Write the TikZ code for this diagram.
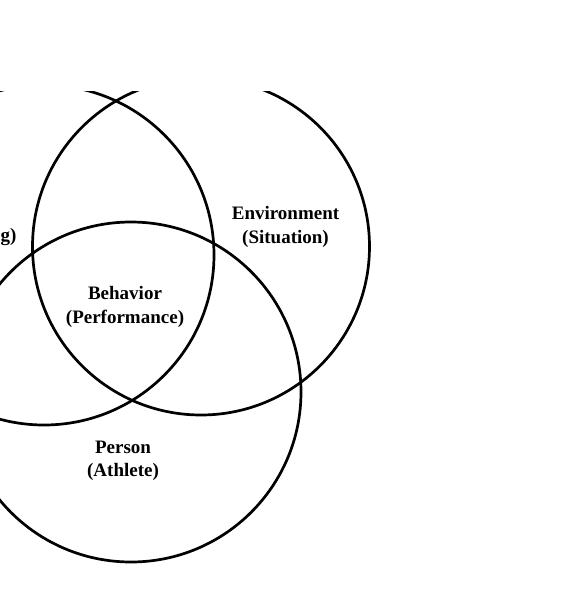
\documentclass[tikz,border=0pt]{standalone}
\usepackage{fontspec}
\setmainfont{Liberation Serif}
\begin{document}
\begin{tikzpicture}[x=1pt,y=-1pt,
  ring/.style={circle,draw=black,line width=2.7pt,inner sep=0pt},
  lbl/.style={align=center,font=\bfseries\fontsize{19}{23.5}\selectfont,inner sep=0pt}]
\useasboundingbox (0,0) rectangle (569,600);
\begin{scope}
\clip (0,91) rectangle (569,600);
\node[ring,minimum size=340pt] (train) at (44,255) {};
\node[ring,minimum size=337pt] (env) at (201,246.5) {};
\node[ring,minimum size=340pt] (person) at (131,392) {};
\end{scope}
\node[lbl,anchor=west] (trainlbl) at (0.5,237) {g)};
\node[lbl] (envlbl) at (285.5,227) {Environment\\(Situation)};
\node[lbl] (behlbl) at (125,307) {Behavior\\(Performance)};
\node[lbl] (perlbl) at (123,461) {Person\\(Athlete)};
\end{tikzpicture}
\end{document}
